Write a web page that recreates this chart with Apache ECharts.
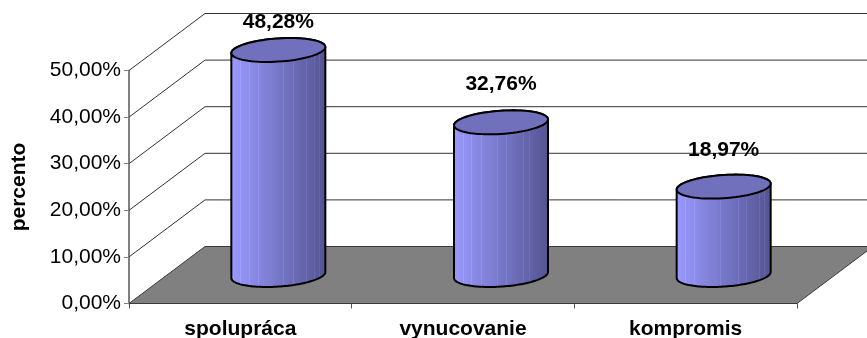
<!DOCTYPE html>
<html>
<head>
<meta charset="utf-8">
<style>html,body{margin:0;padding:0;background:#fff}#chart{width:867px;height:338px}</style>
<script src="https://cdn.jsdelivr.net/npm/echarts@6/dist/echarts.min.js"></script>
</head>
<body>
<div id="chart"></div>
<script>
// Share of each conflict-resolution style, in percent
const categories = ['spolupráca', 'vynucovanie', 'kompromis'];
const shares = [48.28, 32.76, 18.97];
const wallTicks = [0, 10, 20, 30, 40, 50];
const axisTitle = 'percento';

const percentText = v => v.toFixed(2).replace('.', ',') + '%';

// Oblique projection of the floor: how far the back wall sits from the front edge
const DEPTH_X = 76, DEPTH_Y = -57;
const RIGHT_LIMIT = 867;
const RX = 47, TILT = 3, RY = 11.6;
const labelLift = [27.5, 38, 36];

// Faint vertical facets on the cylinder skin
const facetLines = [0.11, 0.2, 0.3, 0.47, 0.56, 0.66, 0.74, 0.8, 0.88, 0.93];
const mix = t => {
  const a = [154, 154, 255], b = [84, 84, 146];
  return a.map((v, i) => Math.round(v + (b[i] - v) * t));
};
const skinStops = (() => {
  const stops = [];
  const rgb = c => `rgb(${c[0]},${c[1]},${c[2]})`;
  let prev = 0;
  facetLines.concat([1]).forEach(p => {
    stops.push({offset: prev, color: rgb(mix(prev))});
    if (p < 1) {
      const start = p - 0.008;
      const light = mix(p).map(v => Math.min(255, v + 13));
      stops.push({offset: start, color: rgb(mix(start))});
      stops.push({offset: start, color: rgb(light)});
      stops.push({offset: p, color: rgb(light)});
    }
    prev = p;
  });
  stops.push({offset: 1, color: rgb(mix(1))});
  return stops;
})();

function ellipsePoints(cx, cy, from, to) {
  const pts = [];
  const n = 72;
  for (let i = 0; i <= n; i++) {
    const t = from + (to - from) * i / n;
    pts.push([cx + RX * Math.cos(t), cy - TILT * Math.cos(t) - RY * Math.sin(t)]);
  }
  return pts;
}

function renderWall(params, api) {
  const v = api.value(0);
  const p = api.coord([0, v]);
  const x0 = params.coordSys.x;
  const xEnd = x0 + params.coordSys.width;
  const y = p[1];
  const children = [];
  if (v === 0) {
    children.push({
      type: 'polygon',
      shape: {points: [[x0, y], [xEnd, y], [xEnd + DEPTH_X, y + DEPTH_Y], [x0 + DEPTH_X, y + DEPTH_Y]]},
      style: {fill: '#808080', stroke: '#3a3a3a', lineWidth: 1}
    });
  } else {
    children.push({
      type: 'polyline',
      shape: {points: [[x0, y], [x0 + DEPTH_X, y + DEPTH_Y], [RIGHT_LIMIT, y + DEPTH_Y]]},
      style: {fill: 'none', stroke: '#333', lineWidth: 1}
    });
  }
  return {type: 'group', children};
}

function renderCylinder(params, api) {
  const idx = api.value(0);
  const val = api.value(1);
  const base = api.coord([idx, 0]);
  const top = api.coord([idx, val]);
  const cx = base[0] + DEPTH_X / 2;
  const by = base[1] + DEPTH_Y / 2;
  const ty = top[1] + DEPTH_Y / 2;
  const bodyPts = ellipsePoints(cx, by, Math.PI, 2 * Math.PI)
    .concat(ellipsePoints(cx, ty, 0, Math.PI));
  return {
    type: 'group',
    children: [
      {
        type: 'polygon',
        shape: {points: bodyPts},
        style: {
          fill: {type: 'linear', x: 0, y: 0, x2: 1, y2: 0, colorStops: skinStops},
          stroke: '#000', lineWidth: 2
        }
      },
      {
        type: 'polygon',
        shape: {points: ellipsePoints(cx, ty, 0, 2 * Math.PI)},
        style: {fill: '#7070BC', stroke: '#000', lineWidth: 2}
      },
      {
        type: 'text',
        style: {
          x: cx, y: ty - labelLift[idx],
          text: percentText(val),
          fill: '#000', font: 'bold 21px "Liberation Sans", Arial, sans-serif',
          align: 'center', verticalAlign: 'middle'
        }
      }
    ]
  };
}

const chart = echarts.init(document.getElementById('chart'), null, {renderer: 'canvas'});
chart.setOption({
  animation: false,
  backgroundColor: '#fff',
  grid: {left: 129, top: 70.5, width: 668, height: 233, containLabel: false, outerBoundsMode: 'none'},
  xAxis: {
    type: 'category',
    data: categories,
    boundaryGap: true,
    axisLine: {lineStyle: {color: '#222', width: 1}},
    axisTick: {show: true, alignWithLabel: false, length: 5, lineStyle: {color: '#555', width: 1}},
    axisLabel: {
      color: '#000', margin: 15, interval: 0,
      fontFamily: 'Liberation Sans', fontWeight: 'bold', fontSize: 21
    },
    splitLine: {show: false}
  },
  yAxis: {
    type: 'value',
    min: 0, max: 50, interval: 10,
    name: axisTitle,
    nameLocation: 'middle',
    nameGap: 99,
    nameRotate: 90,
    nameTextStyle: {color: '#000', fontFamily: 'Liberation Sans', fontWeight: 'bold', fontSize: 21},
    axisLine: {show: true, lineStyle: {color: '#808080', width: 2}},
    axisTick: {show: true, length: 5, lineStyle: {color: '#808080', width: 1}},
    axisLabel: {
      color: '#000', margin: 8,
      fontFamily: 'Liberation Sans', fontSize: 21,
      formatter: percentText
    },
    splitLine: {show: false}
  },
  series: [
    {
      type: 'custom',
      name: 'walls',
      coordinateSystem: 'cartesian2d',
      renderItem: renderWall,
      encode: {y: 0},
      data: wallTicks.map(v => [v]),
      clip: false,
      silent: true,
      z: 1
    },
    {
      type: 'custom',
      name: 'shares',
      coordinateSystem: 'cartesian2d',
      renderItem: renderCylinder,
      encode: {x: 0, y: 1},
      data: shares.map((v, i) => [i, v]),
      clip: false,
      z: 3
    }
  ]
});
</script>
</body>
</html>
